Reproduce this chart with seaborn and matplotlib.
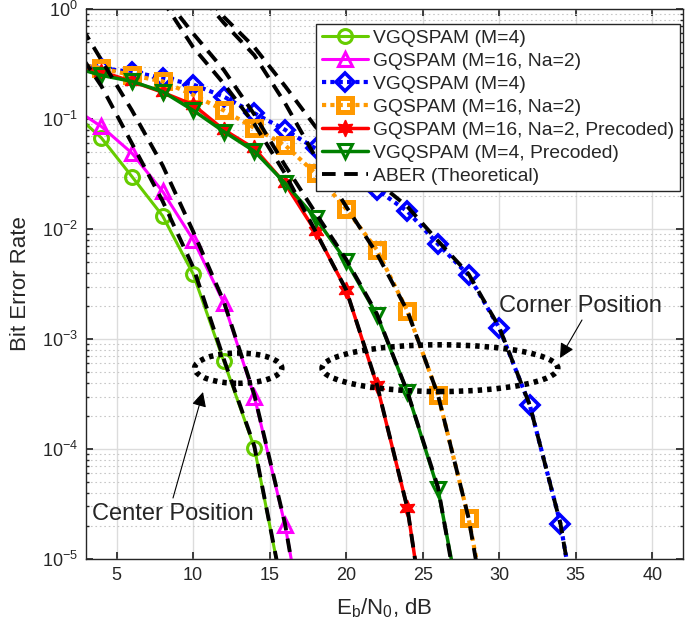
import numpy as np
import matplotlib
matplotlib.use("Agg")
import matplotlib.pyplot as plt
import seaborn as sns
from matplotlib.patches import Ellipse
from matplotlib.ticker import LogLocator, FixedLocator

# SNR (Eb/N0, dB)
snr_center = [2, 4, 6, 8, 10, 12, 14, 16, 18]
snr_corner = [2, 4, 6, 8, 10, 12, 14, 16, 18, 20, 22, 24, 26, 28, 30, 32, 34, 36]

# simulated BER, center position
ber_vgq_center = [0.12, 0.0675, 0.030, 0.0132, 0.0039, 6.3e-4, 1.03e-4, 4e-6, 1e-7]
ber_gq_center = [0.13, 0.0857, 0.049, 0.022, 0.0080, 0.00214, 3.0e-4, 2.05e-5, 6e-7]

# simulated BER, corner position
ber_vgq_corner = [0.32, 0.29, 0.268, 0.237, 0.206, 0.16, 0.113, 0.080, 0.054, 0.035,
                  0.0228, 0.0145, 0.0073, 0.0038, 1.26e-3, 2.5e-4, 2.1e-5, 5e-7]
ber_gq_corner = [0.32, 0.29, 0.25, 0.22, 0.166, 0.12, 0.083, 0.058, 0.032, 0.0152,
                 0.0065, 0.0018, 3.1e-4, 2.35e-5, 8e-7, 1e-8, 1e-9, 1e-10]
ber_gq_prec = [0.31, 0.27, 0.22, 0.175, 0.135, 0.08, 0.054, 0.026, 0.0095, 0.0028,
               3.85e-4, 2.9e-5, 4e-7, 1e-8, 1e-9, 1e-10, 1e-11, 1e-12]
ber_vgq_prec = [0.30, 0.25, 0.22, 0.178, 0.12, 0.077, 0.051, 0.0262, 0.0126, 0.0051,
                0.00166, 3.3e-4, 4.3e-5, 1.5e-6, 1e-8, 1e-9, 1e-10, 1e-11]

# theoretical ABER curves
aber_x = {
    "vgq_center": [2, 4, 6, 8, 10, 12, 14, 16],
    "gq_center": [2, 4, 6, 8, 10, 12, 14, 16, 18],
    "gq_prec": [6, 8, 10, 12, 14, 16, 18, 20, 22, 24, 26],
    "vgq_prec": [6, 8, 10, 12, 14, 16, 18, 20, 22, 24, 26, 28],
    "gq_corner": [10, 12, 14, 16, 18, 20, 22, 24, 26, 28, 30],
    "vgq_corner": [10, 12, 14, 16, 18, 20, 22, 24, 26, 28, 30, 32, 34, 36],
}
aber_y = {
    "vgq_center": [0.52, 0.2, 0.06, 0.018, 0.0045, 6.6e-4, 1.06e-4, 4e-6],
    "gq_center": [1.0, 0.345, 0.12, 0.038, 0.0095, 0.0022, 3.1e-4, 2.1e-5, 5e-7],
    "gq_prec": [3.0, 1.2, 0.45, 0.21, 0.09, 0.032, 0.0095, 0.0028, 3.9e-4, 2.9e-5, 4e-7],
    "vgq_prec": [3.3, 1.35, 0.6, 0.28, 0.11, 0.038, 0.014, 0.0053, 0.0017, 3.3e-4, 4.5e-5, 1.2e-6],
    "gq_corner": [1.6, 0.75, 0.38, 0.14, 0.045, 0.016, 0.006, 0.0018, 3.1e-4, 2.35e-5, 6e-7],
    "vgq_corner": [1.9, 0.85, 0.45, 0.2, 0.085, 0.045, 0.027, 0.016, 0.0078, 0.0039,
                   1.28e-3, 2.5e-4, 2.1e-5, 5e-7],
}

sns.set_theme(style="ticks")
plt.rcParams['font.family'] = ['Liberation Sans', 'DejaVu Sans']
plt.rcParams['mathtext.default'] = 'regular'

fig = plt.figure(figsize=(6.86, 6.27), dpi=100)
ax = fig.add_axes([0.1254, 0.1085, 0.870, 0.877])

mk = dict(markersize=10, markeredgewidth=2.2, markerfacecolor='none')

sns.lineplot(x=snr_center, y=ber_vgq_center, ax=ax, color='#66cc00', lw=2.2,
             marker='o', markeredgecolor='#66cc00', label='VGQSPAM (M=4)', **mk)
sns.lineplot(x=snr_center, y=ber_gq_center, ax=ax, color='#ff00ff', lw=2.2,
             marker='^', markeredgecolor='#ff00ff', label='GQSPAM (M=16, Na=2)', **mk)
sns.lineplot(x=snr_corner, y=ber_vgq_corner, ax=ax, color='#0000ff', lw=3,
             linestyle=(0, (1, 1)), marker='D', markeredgecolor='#0000ff',
             label='VGQSPAM (M=4)', markersize=9, markeredgewidth=2.6, markerfacecolor='none')
sns.lineplot(x=snr_corner, y=ber_gq_corner, ax=ax, color='#ff9900', lw=3,
             linestyle=(0, (1, 1)), marker='s', markeredgecolor='#ff9900',
             label='GQSPAM (M=16, Na=2)', markersize=9.5, markeredgewidth=3.6, markerfacecolor='none')
sns.lineplot(x=snr_corner, y=ber_gq_prec, ax=ax, color='#ff0000', lw=2.5,
             marker=(6, 1, 0), markeredgecolor='#ff0000', markerfacecolor='#ff0000',
             label='GQSPAM (M=16, Na=2, Precoded)', markersize=12, markeredgewidth=1)
sns.lineplot(x=snr_corner, y=ber_vgq_prec, ax=ax, color='#008000', lw=2.5,
             marker='v', markeredgecolor='#008000', label='VGQSPAM (M=4, Precoded)', **mk)

dash = (0, (3.5, 2.2))
for i, key in enumerate(aber_x):
    sns.lineplot(x=aber_x[key], y=aber_y[key], ax=ax, color='black', lw=2.8,
                 linestyle=dash, label='ABER (Theoretical)' if i == 0 else None)

ax.set_yscale('log')
ax.set_xlim(3, 42)
ax.set_ylim(1e-5, 1)
ax.xaxis.set_major_locator(FixedLocator([5, 10, 15, 20, 25, 30, 35, 40]))
ax.yaxis.set_major_locator(LogLocator(base=10, numticks=10))
ax.yaxis.set_minor_locator(LogLocator(base=10, subs=np.arange(2, 10), numticks=10))
ax.grid(True, which='major', color='#dcdcdc', lw=1)
ax.grid(True, which='minor', axis='y', color='#c8c8c8', lw=0.8, linestyle=(0, (1.5, 2.5)))
ax.tick_params(which='both', direction='in', top=True, right=True, labelsize=13, colors='#262626')
ax.tick_params(which='major', length=5, pad=6)
ax.tick_params(which='minor', length=2.5)
for s in ax.spines.values():
    s.set_color('#262626')
    s.set_linewidth(1)

ax.set_xlabel(r'$\mathregular{E_b/N_0}$, dB', fontsize=16, color='#262626')
ax.set_ylabel('Bit Error Rate', fontsize=16, color='#262626')
ax.xaxis.set_label_coords(0.5, -0.068)
ax.yaxis.set_label_coords(-0.093, 0.5)

# ellipses marking the two positions
ax.add_patch(Ellipse((0.255, 0.347), 0.146, 0.055, transform=ax.transAxes, fill=False,
                     ec='black', lw=4, linestyle=(0, (0.8, 0.9)), zorder=6))
ax.add_patch(Ellipse((0.593, 0.347), 0.395, 0.085, transform=ax.transAxes, fill=False,
                     ec='black', lw=4, linestyle=(0, (0.8, 0.9)), zorder=6))

arrow = dict(arrowstyle='-|>', color='black', lw=0.8, mutation_scale=22, shrinkA=0, shrinkB=0)
fig.text(92 / 686, 1 - 514 / 627, 'Center Position', fontsize=17, va='center', ha='left', zorder=7)
fig.text(499 / 686, 1 - 306 / 627, 'Corner Position', fontsize=17, va='center', ha='left', zorder=7)
ax.annotate('', xy=(203, 627 - 392), xycoords='figure pixels',
            xytext=(173, 627 - 498), textcoords='figure pixels', arrowprops=arrow, zorder=7)
ax.annotate('', xy=(560, 627 - 358), xycoords='figure pixels',
            xytext=(582, 627 - 320), textcoords='figure pixels', arrowprops=arrow, zorder=7)

ax.legend(loc='upper right', bbox_to_anchor=(0.995, 0.973), fontsize=13.9, frameon=True,
          fancybox=False, edgecolor='#262626', framealpha=1, borderpad=0.3,
          labelspacing=0.28, handlelength=2.4, handletextpad=0.25, borderaxespad=0)

fig.savefig('out.png', dpi=100)
